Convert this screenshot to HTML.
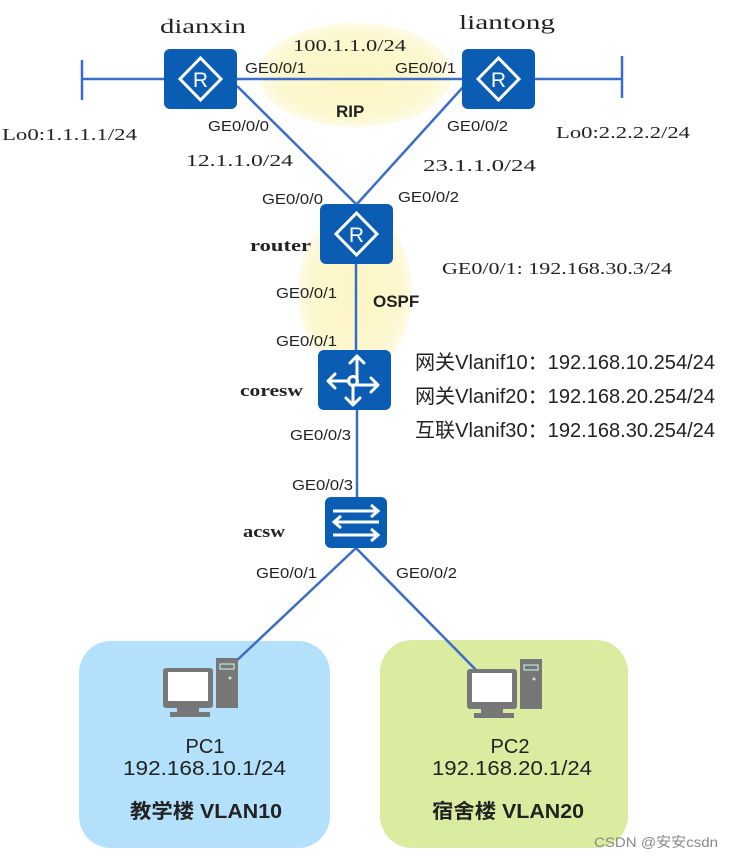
<!DOCTYPE html>
<html><head><meta charset="utf-8"><style>
body{margin:0;background:#fff;width:733px;height:859px;overflow:hidden}
svg text{font-family:"Liberation Sans","Noto Sans CJK SC",sans-serif}
.s{font-family:"Liberation Serif","Noto Serif CJK SC",serif}
</style></head><body>
<svg width="733" height="859" viewBox="0 0 733 859" xmlns="http://www.w3.org/2000/svg">
<defs>
<radialGradient id="y1"><stop offset="0" stop-color="#fbf6c4"/><stop offset="0.8" stop-color="#fcf7cf"/><stop offset="1" stop-color="#fefbe6"/></radialGradient>
<g id="pc">
<rect x="43" y="-10" width="22" height="50" fill="#777"/>
<rect x="47" y="-4" width="14" height="5" fill="none" stroke="#cfe" stroke-width="1"/>
<circle cx="57" cy="10" r="1.5" fill="#ddd"/>
<rect x="-10" y="0" width="50" height="40" rx="3" fill="#777"/>
<rect x="-5" y="4" width="40" height="29" fill="#fff"/>
<rect x="4" y="40" width="22" height="4" fill="#777"/>
<rect x="-3" y="44" width="40" height="5" fill="#777"/>
</g>
<g id="rt">
<rect x="0" y="0" width="73" height="60" rx="6" fill="#0b5db3"/>
<polygon points="36.5,9 57,30 36.5,51 16,30" fill="none" stroke="#fff" stroke-width="3"/>
<text x="36.5" y="38" font-size="21" fill="#fff" text-anchor="middle">R</text>
</g>
</defs>
<ellipse cx="355" cy="75" rx="97" ry="52" fill="url(#y1)"/>
<ellipse cx="355" cy="292" rx="57" ry="82" fill="url(#y1)"/>
<rect x="79" y="641" width="251" height="207" rx="32" fill="#b3e1fb"/>
<rect x="380" y="640" width="248" height="208" rx="32" fill="#d9eca0"/>
<g stroke="#3a6cc8" stroke-width="2.5" fill="none">
<line x1="82" y1="79" x2="165" y2="79"/><line x1="82" y1="60" x2="82" y2="100"/>
<line x1="535" y1="79" x2="622" y2="79"/><line x1="622" y1="56" x2="622" y2="98"/>
<line x1="237" y1="79" x2="462" y2="79"/>
<line x1="237" y1="86" x2="356" y2="204"/>
<line x1="464" y1="86" x2="357" y2="204"/>
<line x1="356" y1="263" x2="356" y2="350"/>
<line x1="357" y1="410" x2="357" y2="497"/>
<line x1="356" y1="548" x2="232" y2="665"/>
<line x1="356" y1="548" x2="478" y2="672"/>
</g>
<use href="#rt" x="164" y="49"/>
<use href="#rt" x="462" y="49"/>
<use href="#rt" x="320" y="204"/>
<rect x="318" y="350" width="73" height="60" rx="6" fill="#0b5db3"/>
<g stroke="#fff" stroke-width="3" fill="none" stroke-linecap="round" stroke-linejoin="round">
<circle cx="353" cy="381" r="4.5"/>
<path d="M357 381 V357 M350 363 L357 356 L364 363"/>
<path d="M349 381 H329 M335 374 L328 381 L335 388"/>
<path d="M353 385 V404 M346 398 L353 405 L360 398"/>
<path d="M357 385 H377 M371 378 L378 385 L371 392"/>
</g>
<rect x="325" y="497" width="62" height="51" rx="6" fill="#0b5db3"/>
<g stroke="#fff" stroke-width="3" fill="none">
<path d="M333 511 H378 M371 505 L378 511 L371 517"/>
<path d="M379 522 H334 M341 516 L334 522 L341 528"/>
<path d="M333 535 H378 M371 529 L378 535 L371 541"/>
</g>
<use href="#pc" x="173" y="668"/>
<use href="#pc" x="477" y="669"/>
<g font-size="20" fill="#222" lengthAdjust="spacingAndGlyphs">
<text x="160" y="33" class="s" textLength="86" lengthAdjust="spacingAndGlyphs">dianxin</text>
<text x="459" y="29" class="s" textLength="96" lengthAdjust="spacingAndGlyphs">liantong</text>
</g>
<g font-size="17" fill="#222">
<text x="293" y="51" class="s" textLength="113" lengthAdjust="spacingAndGlyphs">100.1.1.0/24</text>
<text x="2" y="140" class="s" textLength="135" lengthAdjust="spacingAndGlyphs">Lo0:1.1.1.1/24</text>
<text x="556" y="138" class="s" textLength="134" lengthAdjust="spacingAndGlyphs">Lo0:2.2.2.2/24</text>
<text x="186" y="166" class="s" textLength="107" lengthAdjust="spacingAndGlyphs">12.1.1.0/24</text>
<text x="423" y="171" class="s" textLength="113" lengthAdjust="spacingAndGlyphs">23.1.1.0/24</text>
<text x="442" y="274" class="s" textLength="230" lengthAdjust="spacingAndGlyphs">GE0/0/1: 192.168.30.3/24</text>
</g>
<g font-size="17" font-weight="bold" fill="#222">
<text x="250" y="251" class="s" textLength="61" lengthAdjust="spacingAndGlyphs">router</text>
<text x="240" y="396" class="s" textLength="63" lengthAdjust="spacingAndGlyphs">coresw</text>
<text x="243" y="537" class="s" textLength="42" lengthAdjust="spacingAndGlyphs">acsw</text>
</g>
<g font-size="15" fill="#222">
<text x="245" y="73" textLength="61" lengthAdjust="spacingAndGlyphs">GE0/0/1</text>
<text x="395" y="73" textLength="61" lengthAdjust="spacingAndGlyphs">GE0/0/1</text>
<text x="208" y="131" textLength="61" lengthAdjust="spacingAndGlyphs">GE0/0/0</text>
<text x="447" y="131" textLength="61" lengthAdjust="spacingAndGlyphs">GE0/0/2</text>
<text x="262" y="204" textLength="61" lengthAdjust="spacingAndGlyphs">GE0/0/0</text>
<text x="398" y="202" textLength="61" lengthAdjust="spacingAndGlyphs">GE0/0/2</text>
<text x="276" y="298" textLength="61" lengthAdjust="spacingAndGlyphs">GE0/0/1</text>
<text x="276" y="346" textLength="61" lengthAdjust="spacingAndGlyphs">GE0/0/1</text>
<text x="290" y="440" textLength="61" lengthAdjust="spacingAndGlyphs">GE0/0/3</text>
<text x="292" y="490" textLength="61" lengthAdjust="spacingAndGlyphs">GE0/0/3</text>
<text x="256" y="578" textLength="61" lengthAdjust="spacingAndGlyphs">GE0/0/1</text>
<text x="396" y="578" textLength="61" lengthAdjust="spacingAndGlyphs">GE0/0/2</text>
</g>
<g font-size="17" font-weight="bold" fill="#222">
<text x="336" y="117">RIP</text>
<text x="373" y="307">OSPF</text>
</g>
<g font-size="20" fill="#222">
<text x="415" y="369" textLength="300" lengthAdjust="spacingAndGlyphs">网关Vlanif10：192.168.10.254/24</text>
<text x="415" y="403" textLength="300" lengthAdjust="spacingAndGlyphs">网关Vlanif20：192.168.20.254/24</text>
<text x="415" y="437" textLength="300" lengthAdjust="spacingAndGlyphs">互联Vlanif30：192.168.30.254/24</text>
<text x="205" y="753" text-anchor="middle">PC1</text>
<text x="123" y="775" textLength="163" lengthAdjust="spacingAndGlyphs">192.168.10.1/24</text>
<text x="510" y="753" text-anchor="middle">PC2</text>
<text x="432" y="775" textLength="160" lengthAdjust="spacingAndGlyphs">192.168.20.1/24</text>
</g>
<g font-size="20" font-weight="bold" fill="#222">
<text x="130" y="818" textLength="152" lengthAdjust="spacingAndGlyphs">教学楼 VLAN10</text>
<text x="432" y="818" textLength="152" lengthAdjust="spacingAndGlyphs">宿舍楼 VLAN20</text>
</g>
<text x="594" y="847" font-size="14" fill="#888" textLength="124" lengthAdjust="spacingAndGlyphs">CSDN @安安csdn</text>
</svg>
</body></html>
